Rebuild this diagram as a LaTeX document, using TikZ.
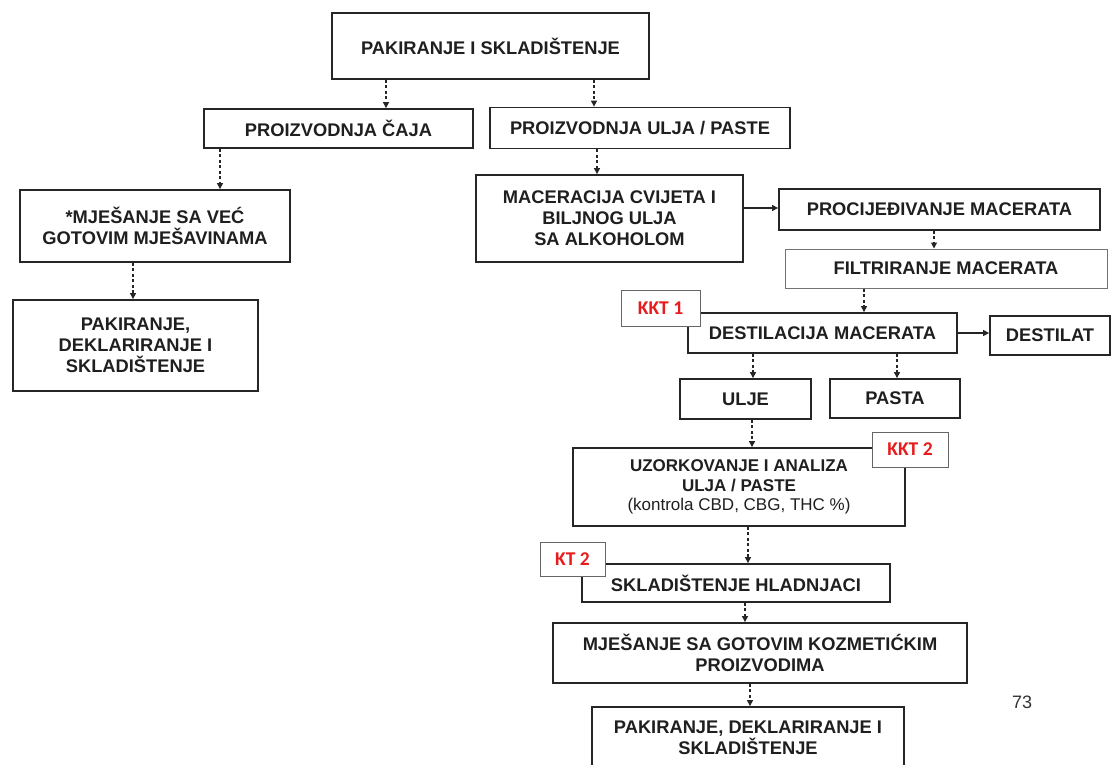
\documentclass[tikz,border=0pt]{standalone}
\usepackage{fontspec}
\setmainfont{Liberation Sans}
\newfontfamily\kktfont{Carlito}
\usetikzlibrary{arrows.meta}
\definecolor{kktred}{RGB}{232,28,28}
\begin{document}
\begin{tikzpicture}[x=1pt,y=-1pt,
  box/.style={draw=black!85, line width=1.8pt, fill=white, align=center, inner sep=0pt,
    font=\fontsize{18.3}{21}\selectfont\bfseries, text=black!88},
  thinbox/.style={box, draw=black!55, line width=1pt},
  kkt/.style={draw=black!60, line width=0.9pt, fill=white, inner sep=0pt,
    font=\kktfont\fontsize{19.5}{21}\selectfont\bfseries, text=kktred},
  darr/.style={draw=black!85, line width=1.1pt, dash pattern=on 3pt off 2.5pt,
    -{Triangle[length=6pt,width=6pt]}},
  sarr/.style={draw=black!85, line width=1.3pt, -{Triangle[length=6pt,width=6pt]}}
]
\useasboundingbox (0,0) rectangle (1111,765);
\fill[white] (0,0) rectangle (1111,765);

% boxes
\node[box, minimum width=317pt, minimum height=66pt] (A) at (490.5,46) {PAKIRANJE I SKLADIŠTENJE};
\node[box, minimum width=269pt, minimum height=39pt] (B) at (338.5,128.5) {PROIZVODNJA ČAJA};
\node[box, minimum width=300pt, minimum height=41pt] (C) at (640,128) {PROIZVODNJA ULJA / PASTE};
\node[box, minimum width=270pt, minimum height=72pt] (D) at (155,226) {*MJEŠANJE SA VEĆ\\GOTOVIM MJEŠAVINAMA};
\node[box, minimum width=245pt, minimum height=91pt] (E) at (135.5,345.5) {PAKIRANJE,\\DEKLARIRANJE I\\SKLADIŠTENJE};
\node[box, minimum width=267pt, minimum height=87pt] (F) at (609.5,218.5) {MACERACIJA CVIJETA I\\BILJNOG ULJA\\SA ALKOHOLOM};
\node[box, minimum width=321pt, minimum height=41pt] (G) at (939.5,209.5) {PROCIJEĐIVANJE MACERATA};
\node[thinbox, minimum width=322pt, minimum height=39pt] (H) at (946,268.5) {FILTRIRANJE MACERATA};
\node[box, minimum width=269pt, minimum height=40pt] (I) at (822.5,333) {DESTILACIJA MACERATA};
\node[box, minimum width=120pt, minimum height=39pt] (J) at (1050,335.5) {DESTILAT};
\node[box, minimum width=131pt, minimum height=40pt] (K) at (745.5,399) {ULJE};
\node[box, minimum width=130pt, minimum height=39pt] (L) at (895,398.5) {PASTA};
\node[box, minimum width=332pt, minimum height=78pt, font=\fontsize{17}{19.5}\selectfont\bfseries] (M) at (739,487)
  {UZORKOVANJE I ANALIZA\\ULJA / PASTE\\{\mdseries (kontrola CBD, CBG, THC \%)}};
\node[box, minimum width=308pt, minimum height=38pt] (N) at (736,583) {SKLADIŠTENJE HLADNJACI};
\node[box, minimum width=414pt, minimum height=60pt] (O) at (760,653) {MJEŠANJE SA GOTOVIM KOZMETIĆKIM\\PROIZVODIMA};
\node[box, minimum width=312pt, minimum height=62pt] (P) at (748,738) {PAKIRANJE, DEKLARIRANJE I\\SKLADIŠTENJE};

% control point labels
\node[kkt, minimum width=79pt, minimum height=36pt] (KKT1) at (660.5,308) {KKT 1};
\node[kkt, minimum width=76pt, minimum height=35pt] (KKT2) at (910,449.5) {KKT 2};
\node[kkt, minimum width=65pt, minimum height=34pt] (KT2) at (572.5,559) {KT 2};

\node[font=\fontsize{18}{20}\selectfont, text=black!80] (pg) at (1022,702) {73};

% connector positions
\coordinate (xAB) at (386,0);
\coordinate (xAC) at (594,0);
\coordinate (xBD) at (220,0);
\coordinate (xCF) at (597,0);
\coordinate (xDE) at (133,0);
\coordinate (xGH) at (934,0);
\coordinate (xHI) at (864,0);
\coordinate (xIK) at (753,0);
\coordinate (xIL) at (897,0);
\coordinate (xKM) at (752,0);
\coordinate (xMN) at (748,0);
\coordinate (xNO) at (745,0);
\coordinate (xOP) at (750,0);
\coordinate (yFG) at (0,208);
\coordinate (yIJ) at (0,333);

% connectors
\draw[darr] (A.south -| xAB) -- (B.north -| xAB);
\draw[darr] (A.south -| xAC) -- (C.north -| xAC);
\draw[darr] (B.south -| xBD) -- (D.north -| xBD);
\draw[darr] (C.south -| xCF) -- (F.north -| xCF);
\draw[darr] (D.south -| xDE) -- (E.north -| xDE);
\draw[sarr] (F.east |- yFG) -- (G.west |- yFG);
\draw[darr] (G.south -| xGH) -- (H.north -| xGH);
\draw[darr] (H.south -| xHI) -- (I.north -| xHI);
\draw[sarr] (I.east |- yIJ) -- (J.west |- yIJ);
\draw[darr] (I.south -| xIK) -- (K.north -| xIK);
\draw[darr] (I.south -| xIL) -- (L.north -| xIL);
\draw[darr] (K.south -| xKM) -- (M.north -| xKM);
\draw[darr] (M.south -| xMN) -- (N.north -| xMN);
\draw[darr] (N.south -| xNO) -- (O.north -| xNO);
\draw[darr] (O.south -| xOP) -- (P.north -| xOP);
\end{tikzpicture}
\end{document}
